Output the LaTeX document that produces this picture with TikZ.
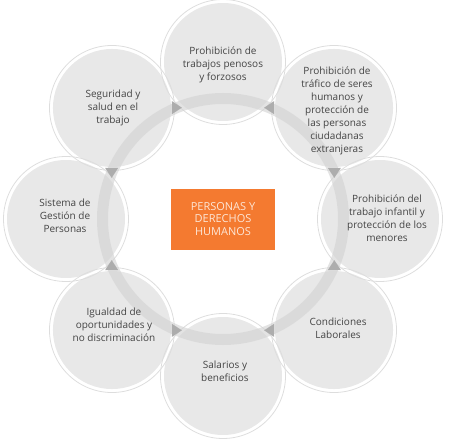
\documentclass[tikz,border=0pt]{standalone}
\usepackage{fontspec}
\setmainfont{Open Sans}
\usetikzlibrary{positioning,calc}
\definecolor{cfondo}{HTML}{E8E8E8}
\definecolor{cborde}{HTML}{DDDDDD}
\definecolor{canillo}{HTML}{D4D4D4}
\definecolor{cpunta}{HTML}{ADADAD}
\definecolor{ctexto}{HTML}{444444}
\definecolor{cnaranja}{HTML}{F47A30}
\definecolor{cclaro}{HTML}{FDE6D6}
\tikzset{
  circulo/.style={circle,fill=cfondo,minimum size=118pt,inner sep=0pt},
  contorno/.style={draw=cborde,line width=0.8pt},
  texto/.style={align=center,inner sep=0pt,text=ctexto,
                font=\fontsize{10}{13}\selectfont},
  centro/.style={fill=cnaranja,minimum width=104pt,minimum height=61pt,
                 align=center,text=cclaro,font=\fontsize{11}{12.5}\selectfont},
  anillo/.style={draw=canillo,draw opacity=0.65,line width=11pt},
  punta/.style={fill=cpunta},
}

\begin{document}
\begin{tikzpicture}[x=1pt,y=1pt]
\useasboundingbox (0,0) rectangle (450,440);
\coordinate (o) at (223,221);

% circulos
\foreach \ang/\nom in {90/a,45/b,0/c,-45/d,-90/e,-135/f,180/g,135/h}
  \node[circulo] (\nom) at ($(o)+(\ang:157)$) {};
\foreach \nom in {a,b,c,d,e,f,g,h}
  \draw[contorno] (\nom.center) circle (62.5);

% anillo y puntas
\draw[anillo] (o) circle (120.5);
\foreach \ang/\rot in {67.5/180,112.5/0,22.5/-90,-22.5/90,-67.5/180,-112.5/0,-157.5/90,157.5/-90}
  \fill[punta,shift={($(o)+(\ang:120.5)$)},rotate=\rot] (-5,-6.5) -- (5,0) -- (-5,6.5) -- cycle;

\node[centro] (pdh) at (o) {PERSONAS Y\\DERECHOS\\HUMANOS};

\node[texto] (ta) at ($(a)+(0,-3)$) {Prohibición de\\trabajos penosos\\y forzosos};
\node[texto] (tb) at ($(b)+(3,-3)$) {Prohibición de\\tráfico de seres\\humanos y\\protección de\\las personas\\ciudadanas\\extranjeras};
\node[texto] (tc) at ($(c)+(7,1)$) {Prohibición del\\trabajo infantil y\\protección de los\\menores};
\node[texto] (td) at ($(d)+(4,2)$) {Condiciones\\Laborales};
\node[texto] (te) at ($(e)+(2,5)$) {Salarios y\\beneficios};
\node[texto] (tf) at ($(f)+(2,5)$) {Igualdad de\\oportunidades y\\no discriminación};
\node[texto] (tg) at ($(g)+(-1,3)$) {Sistema de\\Gestión de\\Personas};
\node[texto] (th) at ($(h)+(1,0)$) {Seguridad y\\salud en el\\trabajo};

\end{tikzpicture}
\end{document}
